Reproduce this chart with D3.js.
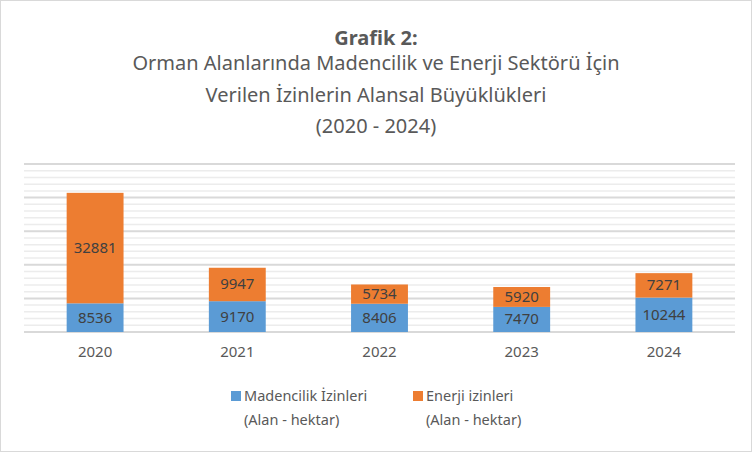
<!DOCTYPE html>
<html><head><meta charset="utf-8">
<script src="https://cdn.jsdelivr.net/npm/d3@7"></script>
<style>body{margin:0;background:#fff}svg{font-family:"Noto Sans","Open Sans",sans-serif}</style>
</head><body><svg id="c"></svg>
<script>
const years = ['2020', '2021', '2022', '2023', '2024'];
const maden = [8536, 9170, 8406, 7470, 10244];
const enerji = [32881, 9947, 5734, 5920, 7271];
const yTicks = d3.range(0, 50001, 2000);

const W = 752, H = 452;
const FONT = '"Noto Sans","Open Sans",sans-serif';
const svg = d3.select('#c').attr('width', W).attr('height', H);
svg.append('rect').attr('x', 0.5).attr('y', 0.5).attr('width', W - 1).attr('height', H - 1)
  .attr('fill', '#fff').attr('stroke', '#d9d9d9');

const x = d3.scaleBand().domain(years).range([24, 735]).paddingInner(0.6).paddingOuter(0.3);
const y = d3.scaleLinear().domain([0, 50000]).range([332, 164]);

// gridlines
svg.append('g').selectAll('line').data(yTicks).enter().append('line')
  .attr('x1', 24).attr('x2', 735)
  .attr('y1', d => y(d)).attr('y2', d => y(d))
  .attr('stroke', d => d % 10000 === 0 ? '#d9d9d9' : '#ececec')
  .attr('stroke-width', d => d % 10000 === 0 ? 2 : 1.5);

const data = years.map((yr, i) => ({ yr, m: maden[i], e: enerji[i] }));
const g = svg.append('g');
g.selectAll('.m').data(data).enter().append('rect')
  .attr('x', d => x(d.yr)).attr('width', x.bandwidth())
  .attr('y', d => y(d.m)).attr('height', d => y(0) - y(d.m)).attr('fill', '#5b9bd5');
g.selectAll('.e').data(data).enter().append('rect')
  .attr('x', d => x(d.yr)).attr('width', x.bandwidth())
  .attr('y', d => y(d.m + d.e)).attr('height', d => y(d.m) - y(d.m + d.e)).attr('fill', '#ed7d31');

g.selectAll('.lm').data(data).enter().append('text')
  .attr('x', d => x(d.yr) + x.bandwidth() / 2).attr('y', d => (y(0) + y(d.m)) / 2 + 5)
  .attr('text-anchor', 'middle').attr('font-size', 15).attr('fill', '#404040').text(d => d.m);
g.selectAll('.le').data(data).enter().append('text')
  .attr('x', d => x(d.yr) + x.bandwidth() / 2).attr('y', d => (y(d.m) + y(d.m + d.e)) / 2 + 5)
  .attr('text-anchor', 'middle').attr('font-size', 15).attr('fill', '#404040').text(d => d.e);

// x axis labels
const xa = svg.append('g').attr('transform', 'translate(0,332)')
  .call(d3.axisBottom(x).tickSize(0).tickPadding(14));
xa.select('.domain').remove();
xa.selectAll('text').attr('font-size', 15).attr('fill', '#595959').style('font-family', FONT);

// title
const title = ['Orman Alanlarında Madencilik ve Enerji Sektörü İçin', 'Verilen İzinlerin Alansal Büyüklükleri', '(2020 - 2024)'];
svg.append('text').attr('x', W / 2).attr('y', 45).attr('text-anchor', 'middle')
  .attr('font-size', 20).attr('font-weight', 'bold').attr('fill', '#595959').text('Grafik 2:');
svg.selectAll('.t').data(title).enter().append('text')
  .attr('x', W / 2).attr('y', (d, i) => 70 + i * 31.5).attr('text-anchor', 'middle')
  .attr('font-size', 20).attr('fill', '#595959').text(d => d);

// legend
const legend = [['Madencilik İzinleri', '#5b9bd5', 231], ['Enerji izinleri', '#ed7d31', 413]];
legend.forEach(([name, col, lx]) => {
  svg.append('rect').attr('x', lx).attr('y', 391).attr('width', 10).attr('height', 10).attr('fill', col);
  svg.append('text').attr('x', lx + 13).attr('y', 401).attr('font-size', 14.5).attr('fill', '#595959').text(name);
  svg.append('text').attr('x', lx + 13).attr('y', 425).attr('font-size', 14.5).attr('fill', '#595959').text('(Alan - hektar)');
});
</script></body></html>
